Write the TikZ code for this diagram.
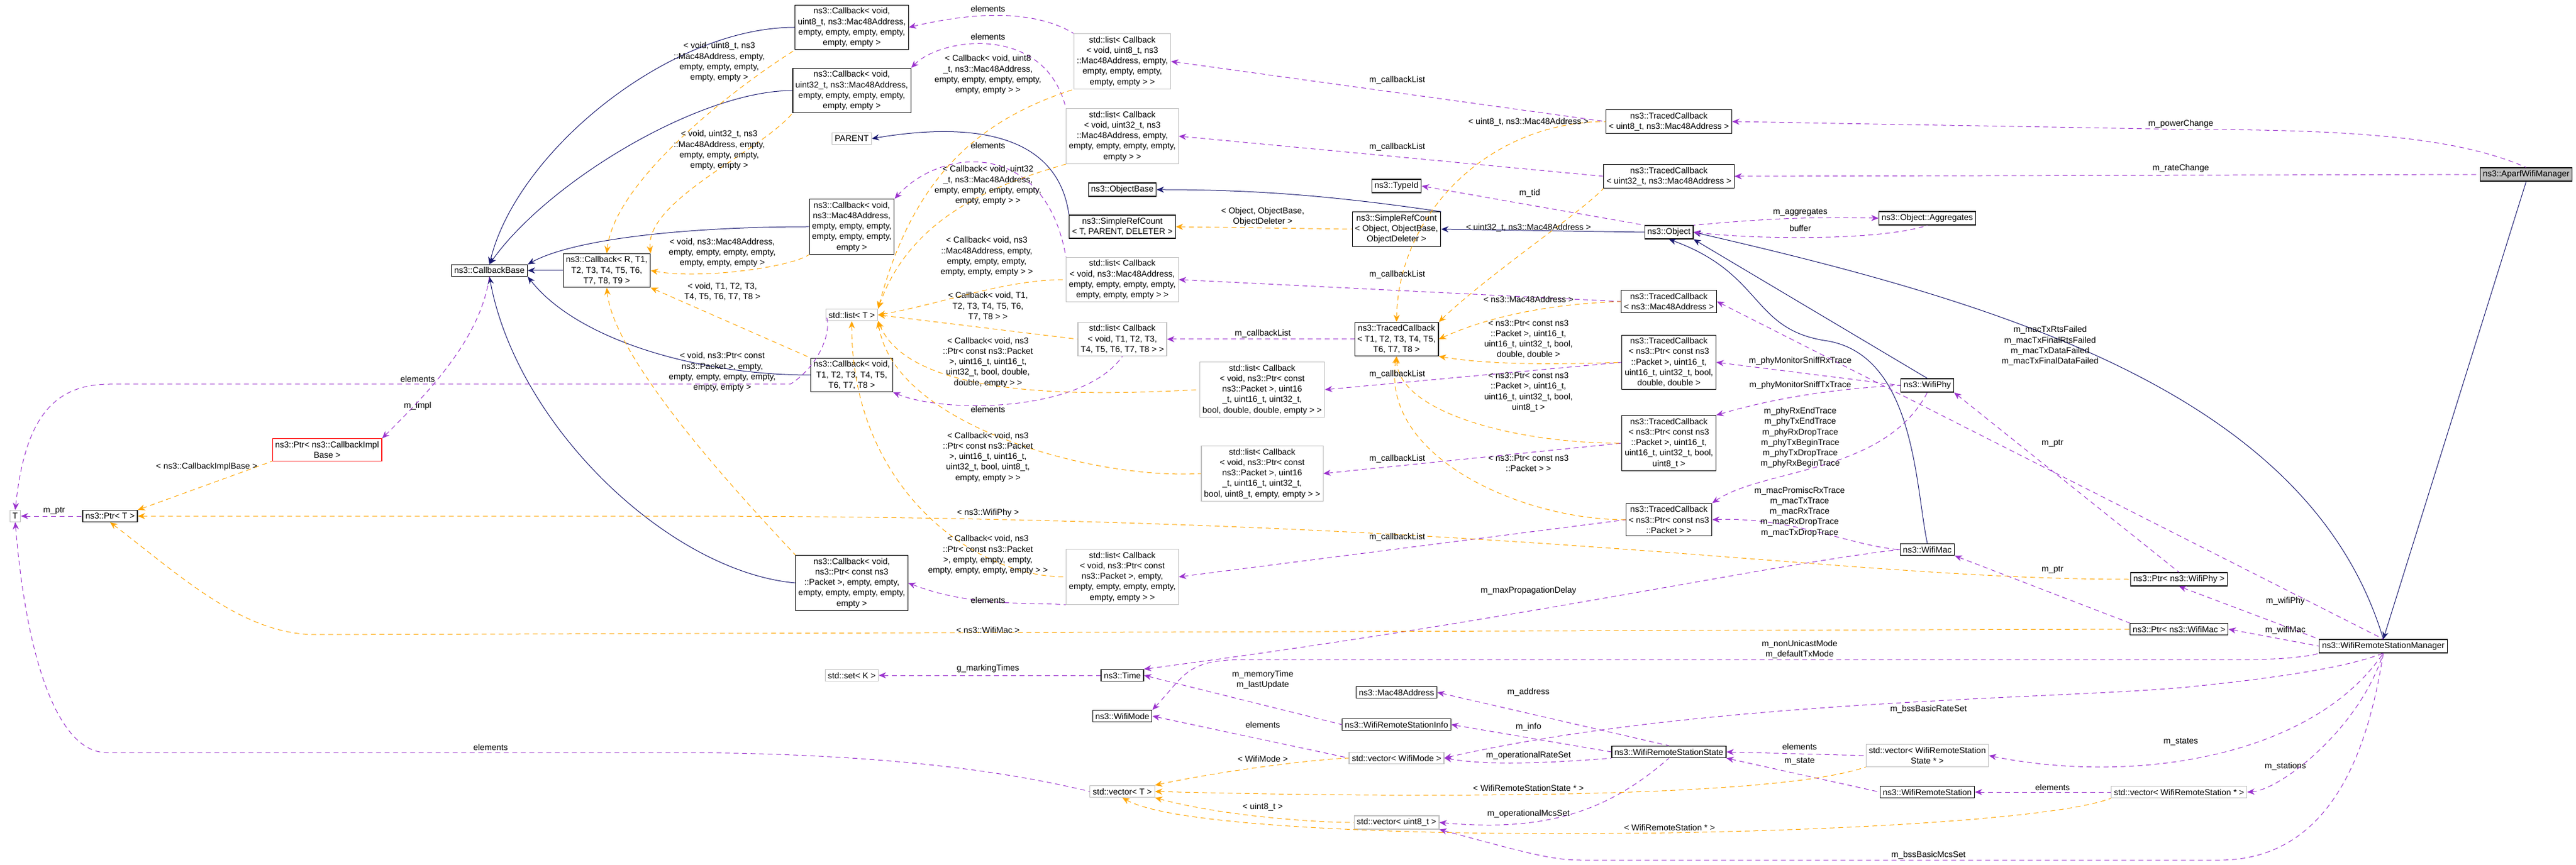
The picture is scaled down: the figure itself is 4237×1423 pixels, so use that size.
\documentclass[tikz,border=0pt]{standalone}
\usepackage{fontspec}
\setmainfont{Liberation Sans}
\usetikzlibrary{arrows.meta}
\definecolor{inhc}{HTML}{191970}
\definecolor{usec}{HTML}{9A32CD}
\definecolor{tplc}{HTML}{FFA500}
\definecolor{grayb}{HTML}{BFBFBF}
\begin{document}
\begin{tikzpicture}[x={(0.2pt,0)},y={(0,-0.2pt)},
 cls/.style={draw=black,line width=0.24pt,align=center,inner sep=0.9pt,font=\fontsize{2.8}{3.44}\selectfont,fill=white},
 ext/.style={cls,draw=grayb},
 lbl/.style={font=\fontsize{2.8}{3.44}\selectfont,align=center,inner sep=0pt},
 inh/.style={draw=inhc,line width=0.2pt,{Stealth[length=2.4pt,width=2pt]}-},
 use/.style={draw=usec,dash pattern=on 1.6pt off 1.2pt,line width=0.2pt,{Stealth[length=2.4pt,width=2pt]}-},
 tpl/.style={draw=tplc,dash pattern=on 1.6pt off 1.2pt,line width=0.2pt,{Stealth[length=2.4pt,width=2pt]}-}]
\useasboundingbox (0,0) rectangle (4237,1423);
% nodes
\node[ext] (T) at (25,849) {T};
\node[cls] (ptrT) at (181,849) {ns3::Ptr< T >};
\node[cls,draw=red] (ptrCIB) at (538,740) {ns3::Ptr< ns3::CallbackImpl\\Base >};
\node[cls] (cbb) at (805,445) {ns3::CallbackBase};
\node[cls] (cbR) at (998,445) {ns3::Callback< R, T1,\\T2, T3, T4, T5, T6,\\T7, T8, T9 >};
\node[cls] (cbu8) at (1401,45) {ns3::Callback< void,\\uint8\_t, ns3::Mac48Address,\\empty, empty, empty, empty,\\empty, empty >};
\node[cls] (cbu32) at (1401,149) {ns3::Callback< void,\\uint32\_t, ns3::Mac48Address,\\empty, empty, empty, empty,\\empty, empty >};
\node[ext] (parent) at (1401,228) {PARENT};
\node[cls] (cbmac) at (1401,373) {ns3::Callback< void,\\ns3::Mac48Address,\\empty, empty, empty,\\empty, empty, empty,\\empty >};
\node[ext] (listT) at (1401,518) {std::list< T >};
\node[cls] (cbT) at (1401,617) {ns3::Callback< void,\\T1, T2, T3, T4, T5,\\T6, T7, T8 >};
\node[cls] (cbpkt) at (1401,959) {ns3::Callback< void,\\ns3::Ptr< const ns3\\::Packet >, empty, empty,\\empty, empty, empty, empty,\\empty >};
\node[ext] (setK) at (1401,1111) {std::set< K >};
\node[ext] (lu8) at (1846,101) {std::list< Callback\\< void, uint8\_t, ns3\\::Mac48Address, empty,\\empty, empty, empty,\\empty, empty > >};
\node[ext] (lu32) at (1846,224) {std::list< Callback\\< void, uint32\_t, ns3\\::Mac48Address, empty,\\empty, empty, empty, empty,\\empty > >};
\node[cls] (objbase) at (1846,312) {ns3::ObjectBase};
\node[cls] (src) at (1846,373) {ns3::SimpleRefCount\\< T, PARENT, DELETER >};
\node[ext] (lmac) at (1846,460) {std::list< Callback\\< void, ns3::Mac48Address,\\empty, empty, empty, empty,\\empty, empty, empty > >};
\node[ext] (lT) at (1846,558) {std::list< Callback\\< void, T1, T2, T3,\\T4, T5, T6, T7, T8 > >};
\node[ext] (lpd) at (2076,641) {std::list< Callback\\< void, ns3::Ptr< const\\ns3::Packet >, uint16\\\_t, uint16\_t, uint32\_t,\\bool, double, double, empty > >};
\node[ext] (lpu8) at (2076,779) {std::list< Callback\\< void, ns3::Ptr< const\\ns3::Packet >, uint16\\\_t, uint16\_t, uint32\_t,\\bool, uint8\_t, empty, empty > >};
\node[ext] (lpe) at (1846,949) {std::list< Callback\\< void, ns3::Ptr< const\\ns3::Packet >, empty,\\empty, empty, empty, empty,\\empty, empty > >};
\node[cls] (time) at (1846,1111) {ns3::Time};
\node[cls] (mode) at (1846,1178) {ns3::WifiMode};
\node[ext] (vecT) at (1846,1302) {std::vector< T >};
\node[cls] (typeid) at (2297,306) {ns3::TypeId};
\node[cls] (sro) at (2297,377) {ns3::SimpleRefCount\\< Object, ObjectBase,\\ObjectDeleter >};
\node[cls] (tcT) at (2297,558) {ns3::TracedCallback\\< T1, T2, T3, T4, T5,\\T6, T7, T8 >};
\node[cls] (mac48) at (2297,1139) {ns3::Mac48Address};
\node[cls] (rsinfo) at (2297,1192) {ns3::WifiRemoteStationInfo};
\node[ext] (vmode) at (2297,1247) {std::vector< WifiMode >};
\node[ext] (vu8) at (2297,1353) {std::vector< uint8\_t >};
\node[cls] (tcu8) at (2745,200) {ns3::TracedCallback\\< uint8\_t, ns3::Mac48Address >};
\node[cls] (tcu32) at (2745,290) {ns3::TracedCallback\\< uint32\_t, ns3::Mac48Address >};
\node[cls] (obj) at (2745,382) {ns3::Object};
\node[cls] (tcmac) at (2745,496) {ns3::TracedCallback\\< ns3::Mac48Address >};
\node[cls] (tcpd) at (2745,596) {ns3::TracedCallback\\< ns3::Ptr< const ns3\\::Packet >, uint16\_t,\\uint16\_t, uint32\_t, bool,\\double, double >};
\node[cls] (tcpu8) at (2745,729) {ns3::TracedCallback\\< ns3::Ptr< const ns3\\::Packet >, uint16\_t,\\uint16\_t, uint32\_t, bool,\\uint8\_t >};
\node[cls] (tcp) at (2745,855) {ns3::TracedCallback\\< ns3::Ptr< const ns3\\::Packet > >};
\node[cls] (rsstate) at (2745,1237) {ns3::WifiRemoteStationState};
\node[cls] (agg) at (3170,359) {ns3::Object::Aggregates};
\node[cls] (phy) at (3170,634) {ns3::WifiPhy};
\node[cls] (wmac) at (3170,904) {ns3::WifiMac};
\node[ext] (vrss) at (3170,1243) {std::vector< WifiRemoteStation\\State * >};
\node[cls] (rs) at (3170,1303) {ns3::WifiRemoteStation};
\node[cls] (pphy) at (3584,953) {ns3::Ptr< ns3::WifiPhy >};
\node[cls] (pmac) at (3584,1035) {ns3::Ptr< ns3::WifiMac >};
\node[ext] (vrs) at (3584,1303) {std::vector< WifiRemoteStation * >};
\node[cls] (mgr) at (3920,1063) {ns3::WifiRemoteStationManager};
\node[cls,fill=black!25] (aparf) at (4155,287) {ns3::AparfWifiManager};
% inheritance
\draw[inh] (cbb.north) .. controls (850,250) and (1100,45) .. (cbu8.west);
\draw[inh] (cbb.north) .. controls (900,300) and (1150,149) .. (cbu32.west);
\draw[inh] (cbb.north east) .. controls (950,390) and (1150,373) .. (cbmac.west);
\draw[inh] (cbb.east) -- (cbR.west);
\draw[inh] (cbb.south east) .. controls (950,560) and (1150,617) .. (cbT.west);
\draw[inh] (cbb.south) .. controls (850,700) and (1100,940) .. (cbpkt.west);
\draw[inh] (parent.east) .. controls (1600,200) and (1740,220) .. (src.north west);
\draw[inh] (objbase.east) .. controls (2050,312) and (2180,320) .. (sro.north east);
\draw[inh] (sro.east) -- (obj.west);
\draw[inh] (obj.south east) -- (phy.north);
\draw[inh] (obj.south) .. controls (2900,450) and (2880,540) .. (3000,560) .. controls (3150,580) and (3150,800) .. (wmac.north);
\draw[inh] (obj.east) .. controls (3300,500) and (3800,650) .. (mgr.north);
\draw[inh] (mgr.north) -- (aparf.south);
% usage
\draw[use] (cbu8.east) .. controls (1600,20) and (1700,15) .. (lu8.north west);
\draw[use] (cbu32.north east) .. controls (1550,60) and (1720,40) .. (lu32.north west);
\draw[use] (cbmac.north east) .. controls (1550,240) and (1720,230) .. (lmac.north west);
\draw[use] (cbT.south east) .. controls (1550,680) and (1780,680) .. (lT.south);
\draw[use] (cbpkt.east) .. controls (1600,1000) and (1700,990) .. (lpe.south west);
\draw[use] (T.north) .. controls (40,700) and (80,632) .. (180,632) -- (1300,632) .. controls (1350,600) and (1370,540) .. (listT.west);
\draw[use] (ptrCIB.north east) .. controls (700,650) and (790,560) .. (cbb.south);
\draw[use] (T.east) -- (ptrT.west);
\draw[use] (T.south) .. controls (45,1100) and (100,1238) .. (175,1238) -- (1100,1238) .. controls (1500,1238) and (1700,1280) .. (vecT.west);
\draw[use] (lu8.east) -- (tcu8.west);
\draw[use] (lu32.east) -- (tcu32.west);
\draw[use] (lmac.east) -- (tcmac.west);
\draw[use] (lT.east) -- (tcT.west);
\draw[use] (lpd.east) -- (tcpd.west);
\draw[use] (lpu8.east) -- (tcpu8.west);
\draw[use] (lpe.east) -- (tcp.west);
\draw[use] (typeid.east) -- (obj.north west);
\draw[use] (agg.west) .. controls (2950,355) and (2850,365) .. (obj.north east);
\draw[use] (obj.east) .. controls (2900,395) and (3100,395) .. (agg.south);
\draw[use] (tcpd.east) -- (phy.west);
\draw[use] (tcpu8.north east) .. controls (2900,660) and (3000,640) .. (phy.west);
\draw[use] (tcp.north east) .. controls (2900,770) and (3100,780) .. (phy.south);
\draw[use] (tcp.east) .. controls (2950,850) and (3050,900) .. (wmac.west);
\draw[use] (time.north east) .. controls (2500,1020) and (2900,930) .. (wmac.west);
\draw[use] (phy.south east) -- (pphy.north);
\draw[use] (wmac.south east) -- (pmac.north west);
\draw[use] (pphy.south) -- (mgr.north west);
\draw[use] (pmac.east) -- (mgr.west);
\draw[use] (mode.north east) .. controls (1950,1110) and (1950,1085) .. (2050,1085) -- (3700,1085) .. controls (3750,1085) and (3800,1080) .. (mgr.south west);
\draw[use] (tcmac.east) -- (mgr.north);
\draw[use] (vmode.east) .. controls (2800,1150) and (3400,1150) .. (3600,1130) .. controls (3800,1110) and (3880,1090) .. (mgr.south);
\draw[use] (vrss.east) .. controls (3500,1290) and (3800,1250) .. (mgr.south);
\draw[use] (vrs.east) .. controls (3750,1300) and (3880,1200) .. (mgr.south);
\draw[use] (vu8.south east) .. controls (2500,1400) and (2550,1415) .. (2600,1415) -- (3650,1415) .. controls (3850,1415) and (3900,1200) .. (mgr.south);
\draw[use] (tcu8.east) -- (3600,213) .. controls (3900,213) and (4050,230) .. (aparf.north);
\draw[use] (tcu32.east) -- (aparf.west);
\draw[use] (time.east) -- (rsinfo.west);
\draw[use] (mode.east) -- (vmode.west);
\draw[use] (mac48.east) -- (rsstate.north);
\draw[use] (rsinfo.east) -- (rsstate.west);
\draw[use] (vmode.east) .. controls (2450,1260) and (2550,1255) .. (rsstate.south west);
\draw[use] (vu8.east) .. controls (2550,1370) and (2650,1330) .. (rsstate.south);
\draw[use] (rsstate.east) -- (vrss.west);
\draw[use] (rsstate.south east) -- (rs.west);
\draw[use] (rs.east) -- (vrs.west);
\draw[use] (setK.east) -- (time.west);
% templates
\draw[tpl] (cbR.north) .. controls (1010,300) and (1200,150) .. (cbu8.south west);
\draw[tpl] (cbR.north east) .. controls (1060,330) and (1250,250) .. (cbu32.south west);
\draw[tpl] (cbR.east) .. controls (1150,460) and (1300,440) .. (cbmac.south west);
\draw[tpl] (cbR.south east) -- (cbT.north west);
\draw[tpl] (cbR.south) .. controls (1010,600) and (1250,850) .. (cbpkt.north west);
\draw[tpl] (listT.north east) .. controls (1500,300) and (1600,200) .. (lu8.south west);
\draw[tpl] (listT.north east) .. controls (1500,350) and (1650,300) .. (lu32.south west);
\draw[tpl] (listT.east) .. controls (1550,500) and (1650,460) .. (lmac.west);
\draw[tpl] (listT.east) -- (lT.west);
\draw[tpl] (listT.south east) .. controls (1500,660) and (1800,650) .. (lpd.west);
\draw[tpl] (listT.south east) .. controls (1470,700) and (1800,790) .. (lpu8.west);
\draw[tpl] (listT.south) .. controls (1400,800) and (1600,950) .. (lpe.west);
\draw[tpl] (src.east) -- (sro.west);
\draw[tpl] (tcT.north) .. controls (2300,350) and (2450,200) .. (tcu8.west);
\draw[tpl] (tcT.north east) .. controls (2450,450) and (2600,350) .. (tcu32.south west);
\draw[tpl] (tcT.east) .. controls (2450,520) and (2550,500) .. (tcmac.west);
\draw[tpl] (tcT.south east) .. controls (2450,600) and (2550,600) .. (tcpd.west);
\draw[tpl] (tcT.south) .. controls (2300,680) and (2500,730) .. (tcpu8.west);
\draw[tpl] (tcT.south) .. controls (2270,750) and (2500,855) .. (tcp.west);
\draw[tpl] (ptrT.north east) -- (ptrCIB.south west);
\draw[tpl] (ptrT.east) -- (1100,849) .. controls (2500,849) and (3000,953) .. (pphy.west);
\draw[tpl] (ptrT.south) .. controls (300,950) and (400,1044) .. (520,1044) -- (pmac.west);
\draw[tpl] (vecT.north east) .. controls (2000,1270) and (2150,1250) .. (vmode.west);
\draw[tpl] (vecT.east) .. controls (2200,1310) and (2900,1320) .. (vrss.south west);
\draw[tpl] (vecT.south east) .. controls (2000,1340) and (2150,1353) .. (vu8.west);
\draw[tpl] (vecT.south) .. controls (2000,1400) and (3300,1380) .. (vrs.south west);
% labels
\node[lbl] (l1) at (340,768) {< ns3::CallbackImplBase >};
\node[lbl] (l2) at (89,840) {m\_ptr};
\node[lbl] (l3) at (807,1229) {elements};
\node[lbl] (l4) at (687,623) {elements};
\node[lbl] (l5) at (687,668) {m\_impl};
\node[lbl] (l6) at (1625,15) {elements};
\node[lbl] (l7) at (1625,61) {elements};
\node[lbl] (l8) at (1625,240) {elements};
\node[lbl] (l9) at (1625,673) {elements};
\node[lbl] (l10) at (1183,102) {< void, uint8\_t, ns3\\::Mac48Address, empty,\\empty, empty, empty,\\empty, empty >};
\node[lbl] (l11) at (1183,247) {< void, uint32\_t, ns3\\::Mac48Address, empty,\\empty, empty, empty,\\empty, empty >};
\node[lbl] (l12) at (1625,123) {< Callback< void, uint8\\\_t, ns3::Mac48Address,\\empty, empty, empty, empty,\\empty, empty > >};
\node[lbl] (l13) at (1625,305) {< Callback< void, uint32\\\_t, ns3::Mac48Address,\\empty, empty, empty, empty,\\empty, empty > >};
\node[lbl] (l14) at (1188,416) {< void, ns3::Mac48Address,\\empty, empty, empty, empty,\\empty, empty, empty >};
\node[lbl] (l15) at (1623,422) {< Callback< void, ns3\\::Mac48Address, empty,\\empty, empty, empty,\\empty, empty, empty > >};
\node[lbl] (l16) at (2077,356) {< Object, ObjectBase,\\ObjectDeleter >};
\node[lbl] (l17) at (1188,480) {< void, T1, T2, T3,\\T4, T5, T6, T7, T8 >};
\node[lbl] (l18) at (1625,504) {< Callback< void, T1,\\T2, T3, T4, T5, T6,\\T7, T8 > >};
\node[lbl] (l19) at (1188,612) {< void, ns3::Ptr< const\\ns3::Packet >, empty,\\empty, empty, empty, empty,\\empty, empty >};
\node[lbl] (l20) at (1625,596) {< Callback< void, ns3\\::Ptr< const ns3::Packet\\>, uint16\_t, uint16\_t,\\uint32\_t, bool, double,\\double, empty > >};
\node[lbl] (l21) at (2077,549) {m\_callbackList};
\node[lbl] (l22) at (1625,752) {< Callback< void, ns3\\::Ptr< const ns3::Packet\\>, uint16\_t, uint16\_t,\\uint32\_t, bool, uint8\_t,\\empty, empty > >};
\node[lbl] (l23) at (1625,844) {< ns3::WifiPhy >};
\node[lbl] (l24) at (1625,913) {< Callback< void, ns3\\::Ptr< const ns3::Packet\\>, empty, empty, empty,\\empty, empty, empty, empty > >};
\node[lbl] (l25) at (1625,987) {elements};
\node[lbl] (l26) at (1625,1036) {< ns3::WifiMac >};
\node[lbl] (l27) at (1625,1100) {g\_markingTimes};
\node[lbl] (l28) at (2077,1118) {m\_memoryTime\\m\_lastUpdate};
\node[lbl] (l29) at (2077,1192) {elements};
\node[lbl] (l30) at (2077,1248) {< WifiMode >};
\node[lbl] (l31) at (2077,1328) {< uint8\_t >};
\node[lbl] (l32) at (2298,132) {m\_callbackList};
\node[lbl] (l33) at (2298,242) {m\_callbackList};
\node[lbl] (l34) at (2298,452) {m\_callbackList};
\node[lbl] (l35) at (2298,616) {m\_callbackList};
\node[lbl] (l36) at (2298,755) {m\_callbackList};
\node[lbl] (l37) at (2298,884) {m\_callbackList};
\node[lbl] (l38) at (2514,201) {< uint8\_t, ns3::Mac48Address >};
\node[lbl] (l39) at (2516,318) {m\_tid};
\node[lbl] (l40) at (2514,375) {< uint32\_t, ns3::Mac48Address >};
\node[lbl] (l41) at (2961,349) {m\_aggregates};
\node[lbl] (l42) at (2961,376) {buffer};
\node[lbl] (l43) at (2514,492) {< ns3::Mac48Address >};
\node[lbl] (l44) at (2514,558) {< ns3::Ptr< const ns3\\::Packet >, uint16\_t,\\uint16\_t, uint32\_t, bool,\\double, double >};
\node[lbl] (l45) at (2514,645) {< ns3::Ptr< const ns3\\::Packet >, uint16\_t,\\uint16\_t, uint32\_t, bool,\\uint8\_t >};
\node[lbl] (l46) at (2514,762) {< ns3::Ptr< const ns3\\::Packet > >};
\node[lbl] (l47) at (2961,594) {m\_phyMonitorSniffRxTrace};
\node[lbl] (l48) at (2961,634) {m\_phyMonitorSniffTxTrace};
\node[lbl] (l49) at (2961,720) {m\_phyRxEndTrace\\m\_phyTxEndTrace\\m\_phyRxDropTrace\\m\_phyTxBeginTrace\\m\_phyTxDropTrace\\m\_phyRxBeginTrace};
\node[lbl] (l50) at (2960,842) {m\_macPromiscRxTrace\\m\_macTxTrace\\m\_macRxTrace\\m\_macRxDropTrace\\m\_macTxDropTrace};
\node[lbl] (l51) at (3376,729) {m\_ptr};
\node[lbl] (l52) at (3376,937) {m\_ptr};
\node[lbl] (l53) at (2514,972) {m\_maxPropagationDelay};
\node[lbl] (l54) at (3759,989) {m\_wifiPhy};
\node[lbl] (l55) at (3759,1037) {m\_wifiMac};
\node[lbl] (l56) at (2960,1068) {m\_nonUnicastMode\\m\_defaultTxMode};
\node[lbl] (l57) at (2514,1139) {m\_address};
\node[lbl] (l58) at (3172,1167) {m\_bssBasicRateSet};
\node[lbl] (l59) at (2514,1196) {m\_info};
\node[lbl] (l60) at (2960,1228) {elements};
\node[lbl] (l61) at (2514,1243) {m\_operationalRateSet};
\node[lbl] (l62) at (2960,1252) {m\_state};
\node[lbl] (l63) at (3587,1220) {m\_states};
\node[lbl] (l64) at (3759,1261) {m\_stations};
\node[lbl] (l65) at (2514,1296) {< WifiRemoteStationState * >};
\node[lbl] (l66) at (3376,1295) {elements};
\node[lbl] (l67) at (2514,1339) {m\_operationalMcsSet};
\node[lbl] (l68) at (2746,1361) {< WifiRemoteStation * >};
\node[lbl] (l69) at (3172,1407) {m\_bssBasicMcsSet};
\node[lbl] (l70) at (3587,204) {m\_powerChange};
\node[lbl] (l71) at (3587,277) {m\_rateChange};
\node[lbl] (l72) at (3372,569) {m\_macTxRtsFailed\\m\_macTxFinalRtsFailed\\m\_macTxDataFailed\\m\_macTxFinalDataFailed};
\end{tikzpicture}
\end{document}
